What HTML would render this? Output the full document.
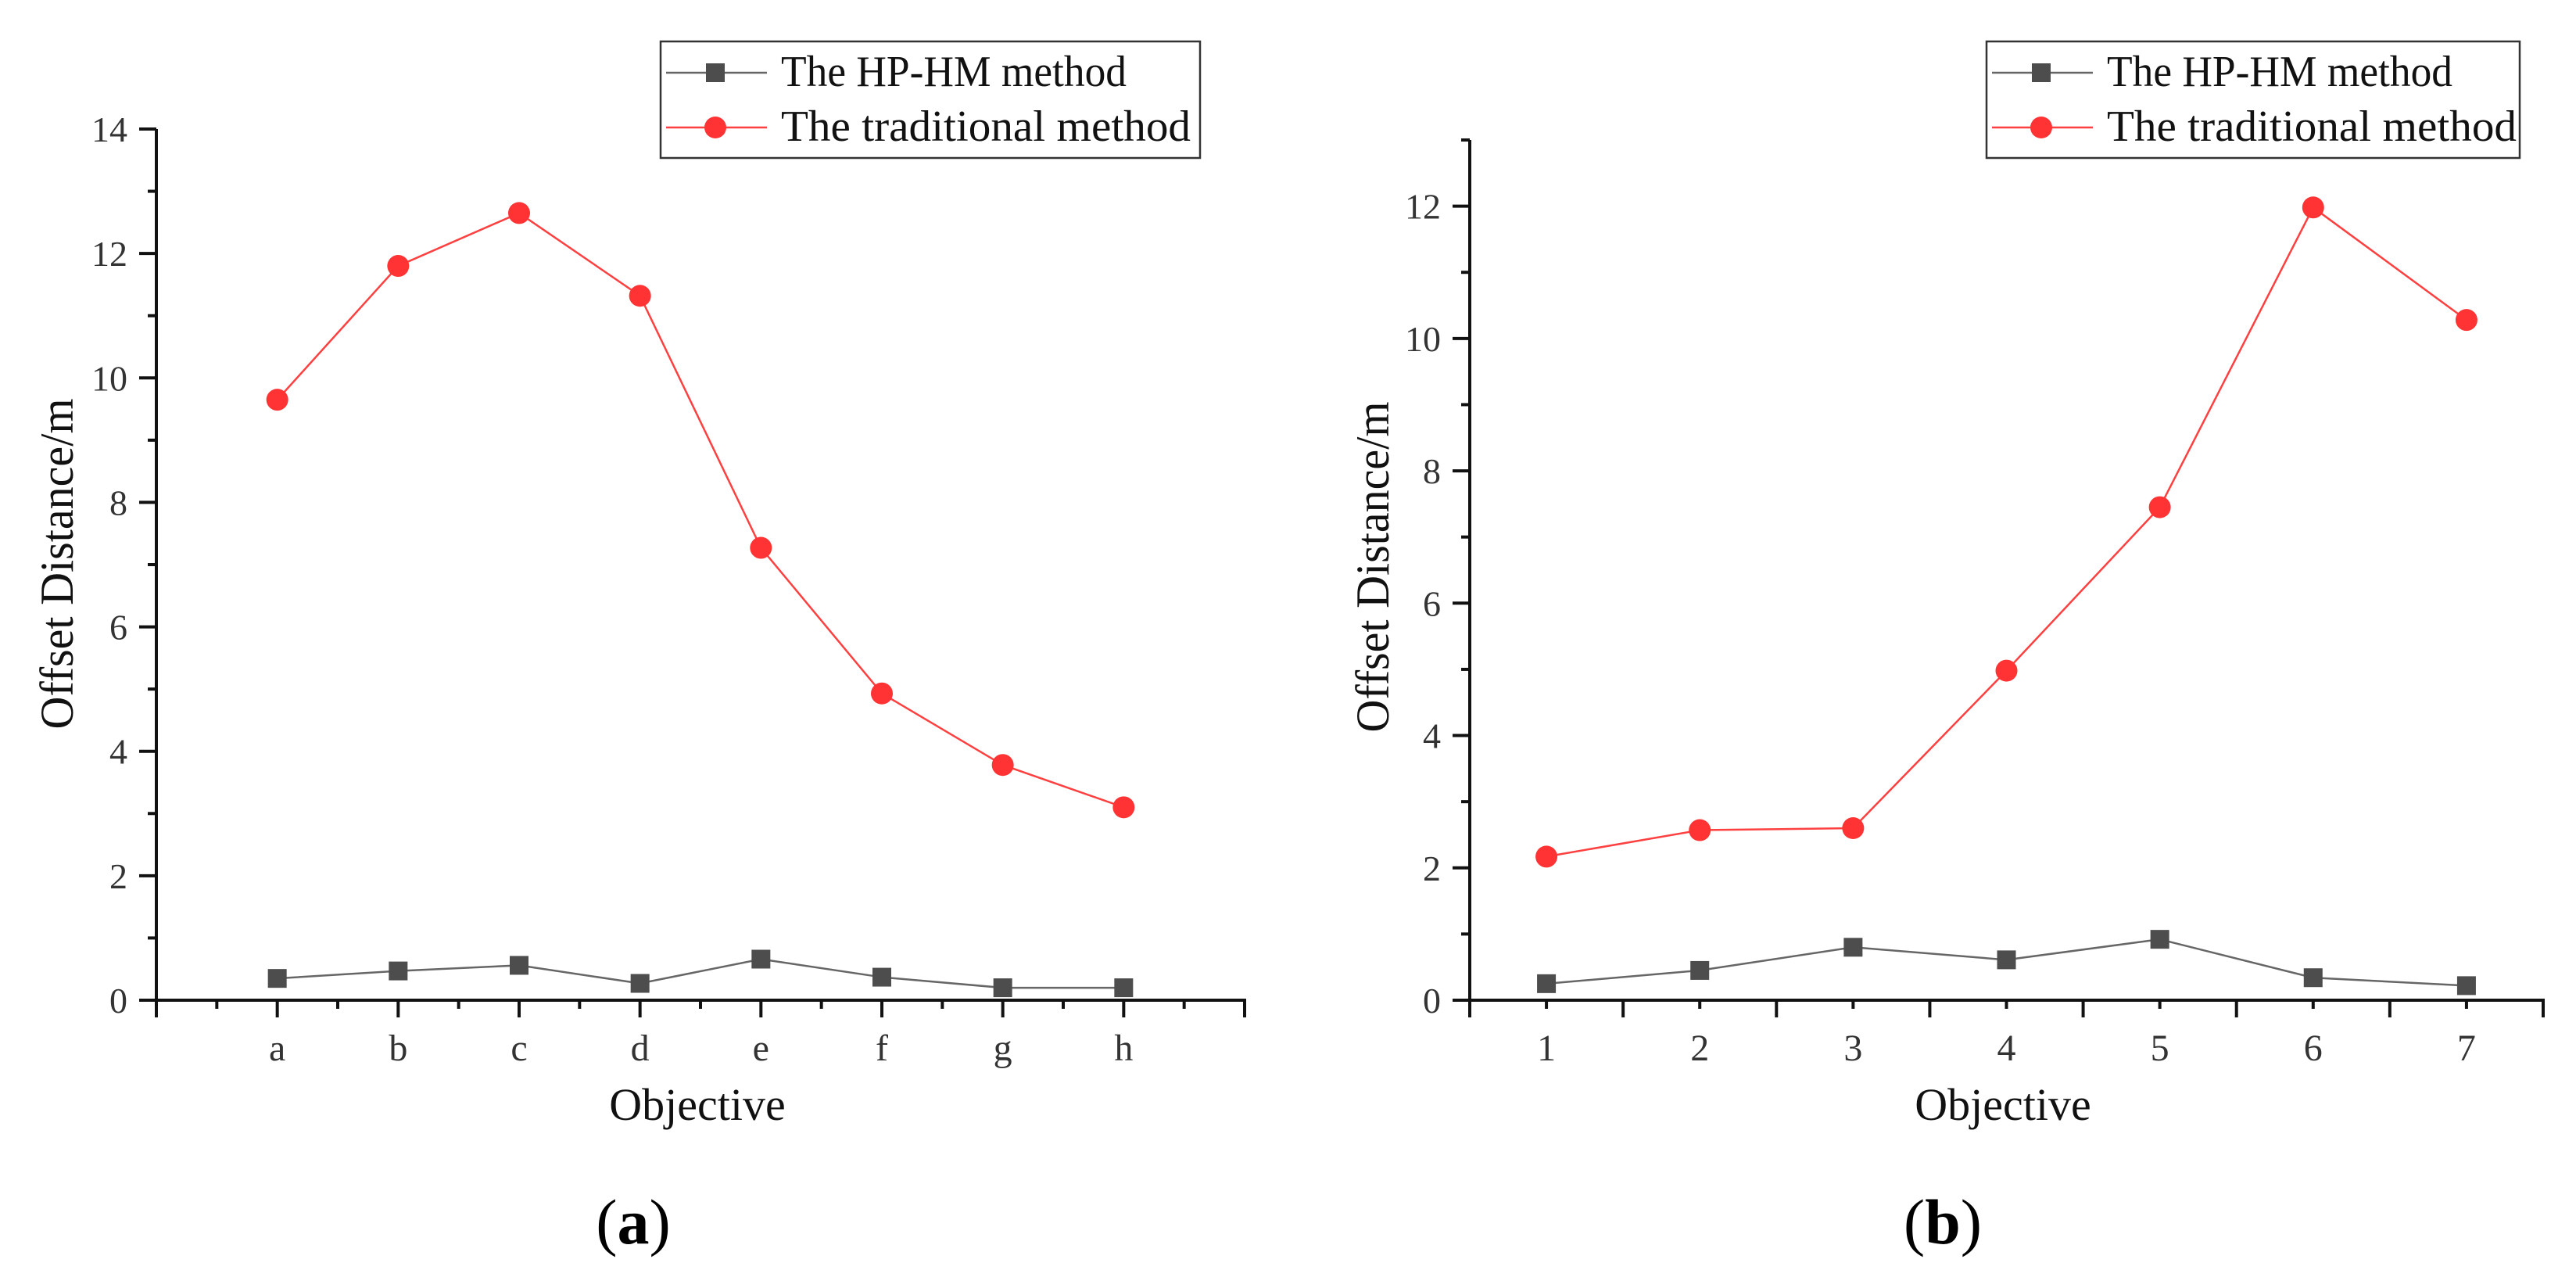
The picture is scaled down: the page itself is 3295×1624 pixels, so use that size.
<!DOCTYPE html>
<html><head><meta charset="utf-8"><style>
html,body{margin:0;padding:0;background:#fff;}
svg{display:block;font-family:"Liberation Serif",serif;}
</style></head><body>
<svg id="fig" width="3295" height="1624" viewBox="0 0 3295 1624" xmlns="http://www.w3.org/2000/svg">
<rect width="3295" height="1624" fill="#fff"/>
</svg>
<script>
// Chart (a)
const catsA = ["a","b","c","d","e","f","g","h"];
const hpA = [0.35,0.47,0.56,0.27,0.66,0.37,0.20,0.20];
const tradA = [9.65,11.8,12.65,11.32,7.27,4.93,3.78,3.10];
const yTicksA = [0,2,4,6,8,10,12,14];
// Chart (b)
const catsB = ["1","2","3","4","5","6","7"];
const hpB = [0.25,0.45,0.80,0.61,0.92,0.34,0.22];
const tradB = [2.17,2.57,2.60,4.98,7.45,11.98,10.28];
const yTicksB = [0,2,4,6,8,10,12];
const legendLabels = ["The HP-HM method","The traditional method"];

const NS="http://www.w3.org/2000/svg";
const svg=document.getElementById('fig');
function mk(tag,attrs,parent){const e=document.createElementNS(NS,tag);for(const k in attrs)e.setAttribute(k,attrs[k]);(parent||svg).appendChild(e);return e;}

function chart(cfg){
  const g=mk('g',{});
  
  
  const n=cfg.cats.length;
  const xs=i=>cfg.x0+(i+cfg.off)*(cfg.x1-cfg.x0)/cfg.span;
  const ys=v=>cfg.y0-(v-0)*(cfg.y0-cfg.yTop)/cfg.yMax;
  // axes
  const ax=mk('g',{},g);
  
  
  mk('line',{x1:cfg.x0,y1:cfg.yTop,x2:cfg.x0,y2:cfg.y0+2,stroke:'#111','stroke-width':4},ax);
  mk('line',{x1:cfg.x0-22,y1:cfg.y0,x2:cfg.x1+2,y2:cfg.y0,stroke:'#111','stroke-width':4},ax);
  // y ticks
  for(let v=0;v<=cfg.yMax;v+=1){
    const major=cfg.yTicks.includes(v);
    mk('line',{x1:cfg.x0-(major?22:11),y1:ys(v),x2:cfg.x0,y2:ys(v),stroke:'#111','stroke-width':4},ax);
  }
  cfg.yTicks.forEach(v=>{
    const t=mk('text',{x:cfg.x0-37,y:ys(v)+16,'text-anchor':'end','font-size':46,fill:'#333'},ax);
    t.textContent=v;
    
    
  });
  // x ticks
  for(let k=0;k<=cfg.span*2;k++){
    const x=cfg.x0+k*(cfg.x1-cfg.x0)/(cfg.span*2);
    const major=k%2===0;
    mk('line',{x1:x,y1:cfg.y0,x2:x,y2:cfg.y0+(major?22:11),stroke:'#111','stroke-width':4},ax);
  }
  cfg.cats.forEach((c,i)=>{
    const t=mk('text',{x:xs(i),y:cfg.y0+77,'text-anchor':'middle','font-size':48,fill:'#333'},ax);
    t.textContent=c;
    
    
  });
  const xt=mk('text',{x:cfg.xTitleX,y:1432,'text-anchor':'middle','font-size':58,fill:'#111'},g);
  xt.textContent='Objective';
  
  
  const yt=mk('text',{x:0,y:0,'text-anchor':'middle','font-size':60,fill:'#111',textLength:423,lengthAdjust:'spacingAndGlyphs',transform:`translate(${cfg.yTitleX},${cfg.yTitleY}) rotate(-90)`},g);
  yt.textContent='Offset Distance/m';
  
  
  // series
  const pts=(arr)=>arr.map((v,i)=>xs(i)+','+ys(v)).join(' ');
  const l1=mk('polyline',{points:pts(cfg.hp),fill:'none',stroke:'#666','stroke-width':2.5},g);
  
  
  const l2=mk('polyline',{points:pts(cfg.trad),fill:'none',stroke:'#ff4040','stroke-width':2.5},g);
  
  
  cfg.hp.forEach((v,i)=>{
    const r=mk('rect',{x:xs(i)-12,y:ys(v)-12,width:24,height:24,fill:'#4d4d4d'},g);
    
    
  });
  cfg.trad.forEach((v,i)=>{
    const c=mk('circle',{cx:xs(i),cy:ys(v),r:14,fill:'#ff3333'},g);
    
    
  });
  // legend
  const lg=mk('g',{},g);
  
  
  const L=cfg.legX;
  mk('rect',{x:L,y:53,width:cfg.legW,height:149,fill:'#fff',stroke:'#333','stroke-width':2.5},lg);
  mk('line',{x1:L+7,y1:93,x2:L+136,y2:93,stroke:'#666','stroke-width':2.5},lg);
  mk('rect',{x:L+58,y:81,width:24,height:24,fill:'#4d4d4d'},lg);
  mk('line',{x1:L+7,y1:163,x2:L+136,y2:163,stroke:'#ff4040','stroke-width':2.5},lg);
  mk('circle',{cx:L+70,cy:163,r:14,fill:'#ff3333'},lg);
  const t1=mk('text',{x:L+154,y:110,'font-size':56,fill:'#111',textLength:442,lengthAdjust:'spacingAndGlyphs'},lg);
  t1.textContent=legendLabels[0];
  
  
  const t2=mk('text',{x:L+154,y:180,'font-size':56,fill:'#111',textLength:524,lengthAdjust:'spacingAndGlyphs'},lg);
  t2.textContent=legendLabels[1];
  
  
  // caption
  const cap=mk('text',{x:cfg.capX,y:1590,'text-anchor':'middle','font-size':82,fill:'#000'},g);
  
  
  const s1=mk('tspan',{},cap);s1.textContent='(';
  const s2=mk('tspan',{'font-weight':'bold'},cap);s2.textContent=cfg.letter;
  const s3=mk('tspan',{},cap);s3.textContent=')';
}

chart({name:'chart-a',cats:catsA,hp:hpA,trad:tradA,yTicks:yTicksA,yMax:14,
  x0:200,x1:1592,span:9,off:1,y0:1279,yTop:165,
  xTitleX:892,yTitleX:93,yTitleY:721,legX:845,legW:690,capX:810,letter:'a'});
chart({name:'chart-b',cats:catsB,hp:hpB,trad:tradB,yTicks:yTicksB,yMax:13,
  x0:1880,x1:3253,span:7,off:0.5,y0:1279,yTop:179,
  xTitleX:2562,yTitleX:1776,yTitleY:725,legX:2541,legW:682,capX:2485,letter:'b'});
</script>
</body></html>
